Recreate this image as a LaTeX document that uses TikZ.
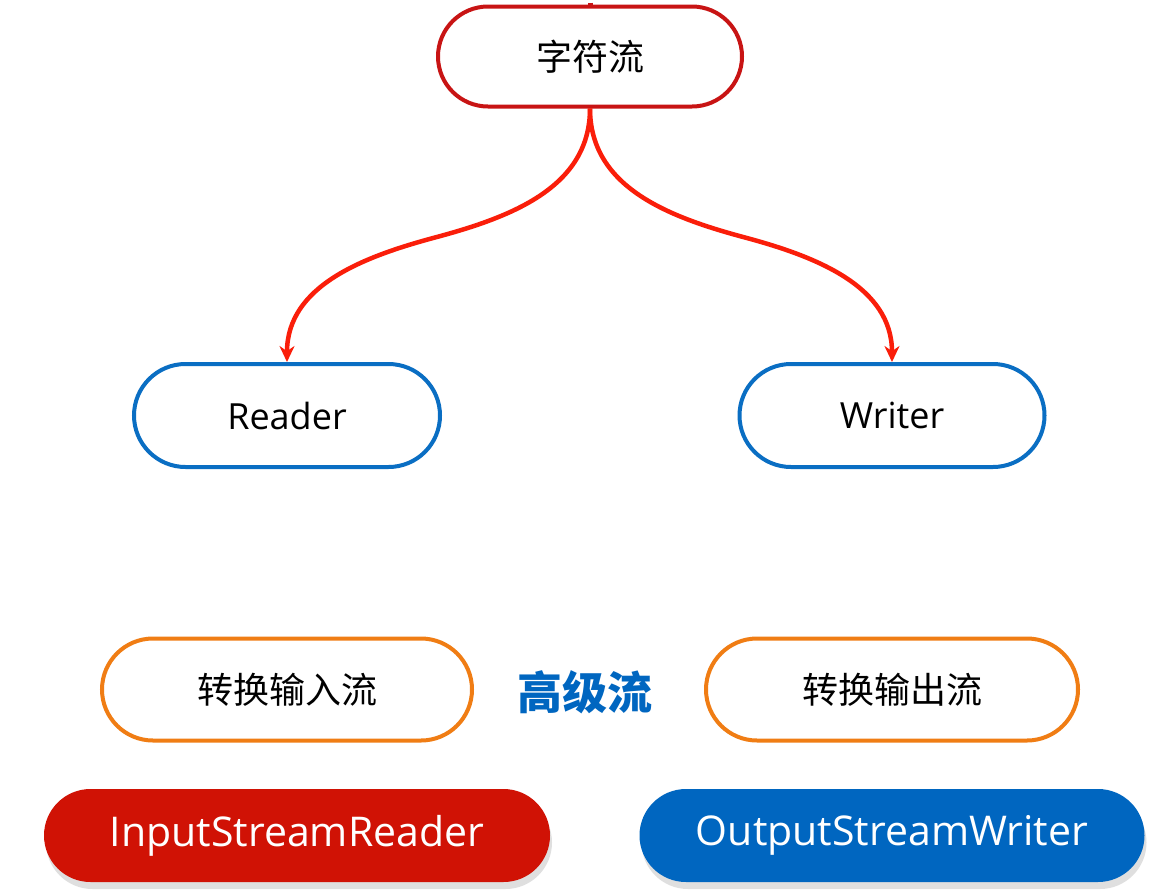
\documentclass[tikz,border=0pt]{standalone}
\usepackage{fontspec}
\setmainfont{Open Sans}
\newfontfamily\cjk{Noto Sans CJK SC}
\usetikzlibrary{positioning, arrows.meta, shapes.misc, shadows}
\definecolor{charred}{RGB}{200,20,20}
\definecolor{arrred}{RGB}{250,30,10}
\definecolor{rdblue}{RGB}{10,110,195}
\definecolor{cvorange}{RGB}{240,125,20}
\definecolor{isrred}{RGB}{208,18,5}
\definecolor{oswblue}{RGB}{0,102,192}
\tikzset{
  stream/.style={
      rounded rectangle,
      draw,
      line width=4pt,
      fill=white,
      minimum height=100pt,
      inner sep=0pt,
      font=\fontsize{36}{40}\selectfont
    },
  cls/.style={
      rounded rectangle,
      minimum height=93pt,
      minimum width=505pt,
      inner sep=0pt,
      text=white,
      font=\fontsize{41}{46}\selectfont,
      drop shadow={shadow xshift=2pt, shadow yshift=-7pt, opacity=0.25}
    },
  arr/.style={
      -{Stealth[length=16pt, width=15pt]},
      line width=4.5pt,
      color=arrred
    }
}
\begin{document}
\begin{tikzpicture}[x=1pt, y=-1pt]
  \fill[white] (0,0) rectangle (1149,892);
  \coordinate (in) at (590,0);
  \coordinate (midl) at (435,235);
  \coordinate (midr) at (745,235);
  \node[stream, draw=charred, minimum width=304pt] (char) at (590,54) {\cjk 字符流};
  \node[stream, draw=rdblue, minimum width=306pt, minimum height=103pt] (reader) at (287,413) {Reader};
  \node[stream, draw=rdblue, minimum width=305pt, minimum height=103pt] (writer) at (892,413) {Writer};
  \node[stream, draw=cvorange, minimum width=370pt, minimum height=102pt] (cvin) at (287,687) {\cjk 转换输入流};
  \node[stream, draw=cvorange, minimum width=372pt, minimum height=102pt] (cvout) at (892,687) {\cjk 转换输出流};
  \node[text=oswblue, font=\cjk\bfseries\fontsize{45}{50}\selectfont] (high) at (585,690) {高级流};
  \node[cls, fill=isrred, minimum width=506pt] (isr) at (297,833) {InputStreamReader};
  \node[cls, fill=oswblue] (osw) at (892,833) {OutputStreamWriter};
  \draw[line width=5pt, charred] (in) -- (char);
  \draw[arr] (char.south) to[out=-90, in=15] (midl) to[out=195, in=90] (reader.north);
  \draw[arr] (char.south) to[out=-90, in=165] (midr) to[out=-15, in=90] (writer.north);
\end{tikzpicture}
\end{document}
